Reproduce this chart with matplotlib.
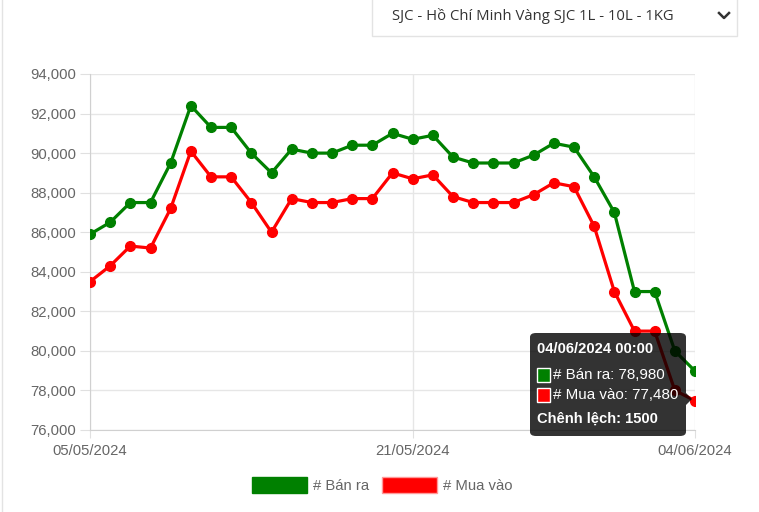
import matplotlib
matplotlib.use("Agg")
import matplotlib.pyplot as plt
from matplotlib.patches import Patch, FancyBboxPatch, Rectangle, Polygon
from matplotlib.lines import Line2D
import pandas as pd

plt.rcParams['font.family'] = ['Liberation Sans', 'DejaVu Sans']

# dates (one point per day)
dates = pd.date_range('2024-05-05', '2024-06-04', freq='D')

# selling price (Bán ra)
ban_ra = [85900, 86500, 87500, 87500, 89500, 92400, 91300, 91300, 90000, 89000,
          90200, 90000, 90000, 90400, 90400, 91000, 90700, 90900, 89800, 89500,
          89500, 89500, 89900, 90500, 90300, 88800, 87000, 83000, 83000, 80000,
          78980]
# buying price (Mua vào)
mua_vao = [83500, 84300, 85300, 85200, 87200, 90100, 88800, 88800, 87500, 86000,
           87700, 87500, 87500, 87700, 87700, 89000, 88700, 88900, 87800, 87500,
           87500, 87500, 87900, 88500, 88300, 86300, 83000, 81000, 81000, 78000,
           77480]

tick_dates = ['2024-05-05', '2024-05-21', '2024-06-04']
tick_labels = ['05/05/2024', '21/05/2024', '04/06/2024']
y_ticks = list(range(76000, 94001, 2000))

W, H = 759, 512
fig = plt.figure(figsize=(W / 100, H / 100), dpi=100)

def fx(px):
    return px / W

def fy(py):
    return 1 - py / H

ax = fig.add_axes([fx(90), fy(430), fx(695) - fx(90), fy(74) - fy(430)])

green = '#008000'
red = '#ff0000'
ax.plot(dates, ban_ra, color=green, lw=2.3, marker='o', ms=7, zorder=3)
ax.plot(dates, mua_vao, color=red, lw=2.3, marker='o', ms=7, zorder=3)

ax.set_ylim(76000, 94000)
ax.set_xlim(dates[0], dates[-1])
ax.set_yticks(y_ticks)
ax.set_yticklabels([f'{v:,}' for v in y_ticks])
ax.set_xticks(pd.to_datetime(tick_dates))
ax.set_xticklabels(tick_labels)

ax.grid(True, color='#e6e6e6', lw=1)
ax.set_axisbelow(True)
for s in ['top', 'right']:
    ax.spines[s].set_visible(False)
for s in ['left', 'bottom']:
    ax.spines[s].set_color('#d0d0d0')
ax.tick_params(axis='y', length=7, color='#e0e0e0', labelcolor='#666666',
               labelsize=10.7, pad=3)
ax.tick_params(axis='x', length=6, color='#e0e0e0', labelcolor='#666666',
               labelsize=10.7, pad=4)

# tooltip
tt = FancyBboxPatch((fx(530), fy(436)), fx(686) - fx(530), fy(333) - fy(436),
                    boxstyle='round,pad=0,rounding_size=0.008',
                    transform=fig.transFigure, facecolor=(0, 0, 0, 0.8),
                    edgecolor='none', zorder=10)
fig.patches.append(tt)
arrow = Polygon([(fx(686), fy(393)), (fx(692), fy(399)), (fx(686), fy(405))],
                closed=True, transform=fig.transFigure, facecolor=(0, 0, 0, 0.8),
                edgecolor='none', zorder=10)
fig.patches.append(arrow)
fig.text(fx(537), fy(349), '04/06/2024 00:00', color='white', fontsize=10.6,
         fontweight='bold', va='center', ha='left', zorder=11)
rows = [(375, green, '# Bán ra: 78,980'), (395, red, '# Mua vào: 77,480')]
for py, col, label in rows:
    fig.patches.append(Rectangle((fx(537), fy(py + 7)), fx(550) - fx(537), fy(py - 7) - fy(py + 7),
                                 transform=fig.transFigure, facecolor=col,
                                 edgecolor='white', lw=1, zorder=11))
    fig.text(fx(553), fy(py), label, color='white', fontsize=10.9,
             va='center', ha='left', zorder=11)
fig.text(fx(537), fy(419), 'Chênh lệch: 1500', color='white', fontsize=10.6,
         fontweight='bold', va='center', ha='left', zorder=11)

# legend
handles = [Patch(facecolor=green, edgecolor=green, label='# Bán ra'),
           Patch(facecolor=red, edgecolor='#ff9999', label='# Mua vào')]
fig.legend(handles=handles, loc='center', bbox_to_anchor=(fx(382), fy(485)), ncol=2,
           frameon=False, fontsize=10.7, labelcolor='#666666',
           handlelength=3.7, handleheight=1.3, handletextpad=0.4,
           columnspacing=0.9)

# dropdown box above chart
fig.patches.append(Rectangle((fx(372), fy(36)), fx(737) - fx(372), fy(-2) - fy(36),
                             transform=fig.transFigure, facecolor='white',
                             edgecolor='#e3e3e3', lw=1))
fig.text(fx(392), fy(16), 'SJC - Hồ Chí Minh Vàng SJC 1L - 10L - 1KG',
         fontsize=10.7, color='#333333', va='center', ha='left',
         family=['Open Sans', 'DejaVu Sans'])
fig.lines.append(Line2D([fx(719), fx(724), fx(729)], [fy(13), fy(18), fy(13)],
                        transform=fig.transFigure, color='#333333', lw=1.8))

# left page border
fig.lines.append(Line2D([fx(2), fx(2)], [0, 1], transform=fig.transFigure,
                        color='#e3e3e3', lw=1))

fig.savefig('out.png', dpi=100)
